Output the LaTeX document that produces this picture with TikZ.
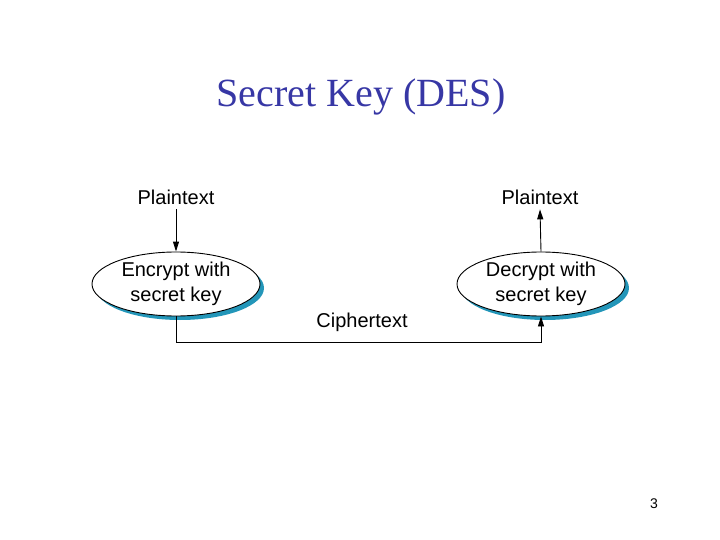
\documentclass[tikz,border=0pt]{standalone}
\usepackage{fontspec}
\setmainfont{Liberation Serif}
\newfontfamily\diagfont{Liberation Sans}
\usetikzlibrary{shapes.geometric,arrows.meta}
\begin{document}
\begin{tikzpicture}[x=1pt, y=-1pt,
    cipher/.style={ellipse, draw=black, fill=white, line width=0.9pt,
        minimum width=168pt, minimum height=64pt, inner sep=0pt,
        align=center, font=\diagfont\fontsize{20}{25}\selectfont},
    cipshadow/.style={ellipse, fill=shadowcolor,
        minimum width=168pt, minimum height=64pt, inner sep=0pt},
    label/.style={inner sep=1pt, outer sep=4pt, font=\diagfont\fontsize{20}{24}\selectfont},
    post/.style={line width=0.9pt, draw=black},
    tip/.style={-{Triangle[length=10pt, width=6pt]}},
]
\definecolor{titlecolor}{RGB}{55,55,165}
\definecolor{shadowcolor}{RGB}{35,150,185}
  \useasboundingbox (0,0) rectangle (720,540);
  % title
  \node[font=\fontsize{40}{44}\selectfont, text=titlecolor] (title) at (361, 97) {Secret Key (DES)};
  % encrypt side
  \node[label] (pt_in) at (176, 197) {Plaintext};
  \node[cipshadow] (s_enc) at (180, 288) {};
  \node[cipher] (e_enc) at (176, 284) {Encrypt with\\secret key};
  \draw[post, tip] (pt_in.south) -- (e_enc.north);
  % decrypt side
  \node[label] (pt_out) at (540, 197) {Plaintext};
  \node[cipshadow] (s_dec) at (545, 288) {};
  \node[cipher] (e_dec) at (541, 284) {Decrypt with\\secret key};
  \draw[post, tip] (e_dec.north) -- (pt_out.south);
  % ciphertext channel
  \coordinate (c_left) at (176, 342);
  \coordinate (c_right) at (541, 342);
  \draw[post, tip] (e_enc.south) -- (c_left) -- (c_right) -- (e_dec.south);
  \node[label] (ct) at (362, 322) {Ciphertext};
  % page number
  \node[font=\diagfont\fontsize{14}{16}\selectfont] (pagenum) at (654, 504) {3};
\end{tikzpicture}
\end{document}
